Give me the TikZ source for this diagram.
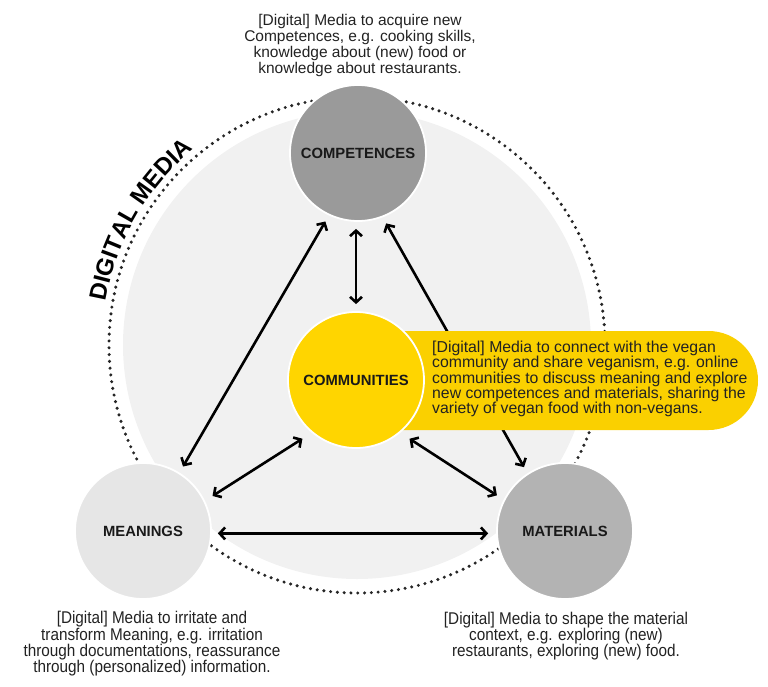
\documentclass[tikz,border=0pt]{standalone}
\usepackage{fontspec}
\setmainfont{Liberation Sans}
\newfontfamily\narrowfont{Liberation Sans}[FakeStretch=0.9]
\usetikzlibrary{arrows.meta,decorations.text}
\definecolor{diskgray}{HTML}{F1F1F1}
\definecolor{compgray}{HTML}{9A9A9A}
\definecolor{matgray}{HTML}{B3B3B3}
\definecolor{meangray}{HTML}{E6E6E6}
\definecolor{commyellow}{HTML}{FFD500}
\definecolor{callyellow}{HTML}{FAD000}
\definecolor{txtgray}{HTML}{222222}
\pgfdeclarelayer{bg}
\pgfsetlayers{bg,main}
\tikzset{
  circ/.style={circle, draw=white, line width=1.8pt, minimum size=136pt, inner sep=0pt,
    font=\fontsize{14.8}{14.8}\selectfont\bfseries, text=black!90},
  arr/.style={{Straight Barb[length=5.5pt,width=12pt]}-{Straight Barb[length=5.5pt,width=12pt]},
    line width=2.6pt, black},
  dotline/.style={line width=3.4pt, line cap=round, dash pattern=on 0pt off 6.8pt, black!85},
  desc/.style={align=center, text=txtgray, font=\fontsize{15.5}{16}\selectfont, inner sep=0pt},
  descn/.style={align=center, text=txtgray, font=\narrowfont\fontsize{17}{16.3}\selectfont, inner sep=0pt},
  calltxt/.style={align=left, text=txtgray, font=\fontsize{15.8}{15.2}\selectfont, inner sep=0pt}
}
\begin{document}
\begin{tikzpicture}[x=1pt,y=1pt]
\useasboundingbox (0,0) rectangle (768,-687);
\coordinate (c) at (357,-345);

% circles
\node[circ, fill=compgray] (competences) at (358,-153) {COMPETENCES};
\node[circ, fill=commyellow] (communities) at (356,-380) {COMMUNITIES};
\node[circ, fill=meangray] (meanings) at (143,-531) {MEANINGS};
\node[circ, fill=matgray] (materials) at (565,-531) {MATERIALS};

% texts
\node[desc] (comptext) at (360,-45) {[Digital] Media to acquire new\\Competences, e.g. cooking skills,\\knowledge about (new) food or\\knowledge about restaurants.};
\node[calltxt, anchor=north west] (calltext) at (432,-341) {[Digital] Media to connect with the vegan\\community and share veganism, e.g. online\\communities to discuss meaning and explore\\new competences and materials, sharing the\\variety of vegan food with non-vegans.};
\node[descn] (meantext) at (152,-644) {[Digital] Media to irritate and\\transform Meaning, e.g. irritation\\through documentations, reassurance\\through (personalized) information.};
\node[descn] (mattext) at (566,-636) {[Digital] Media to shape the material\\context, e.g. exploring (new)\\restaurants, exploring (new) food.};

\begin{pgfonlayer}{bg}
\fill[diskgray] (c) circle[radius=234];
\draw[dotline] (c) circle[radius=248];
\path[decorate, decoration={text along path, text align=center,
  text={|\fontsize{24}{24}\selectfont\bfseries|DIGITAL MEDIA}}]
  ([shift={(185:255)}]c) arc[start angle=185, end angle=115, radius=255];
% arrows
\draw[arr, shorten <=7pt, shorten >=7pt] (communities.north) -- (communities.north |- competences.south);
\draw[arr, shorten <=7pt, shorten >=7pt] (meanings.58) -- (competences.245);
\draw[arr, shorten <=7pt, shorten >=7pt] (competences.291) -- (materials.123);
\draw[arr, shorten <=11pt, shorten >=9pt] (communities.230) -- (meanings.26);
\draw[arr, shorten <=11pt, shorten >=8pt] (communities.310) -- (materials.153);
\draw[arr, shorten <=6pt, shorten >=8pt] (meanings.-2) -- (materials.182);
% callout box
\fill[callyellow] (400,-331) -- (708.5,-331) arc[start angle=90, end angle=-90, radius=49.5] -- (400,-430) -- cycle;
\end{pgfonlayer}
\end{tikzpicture}
\end{document}
